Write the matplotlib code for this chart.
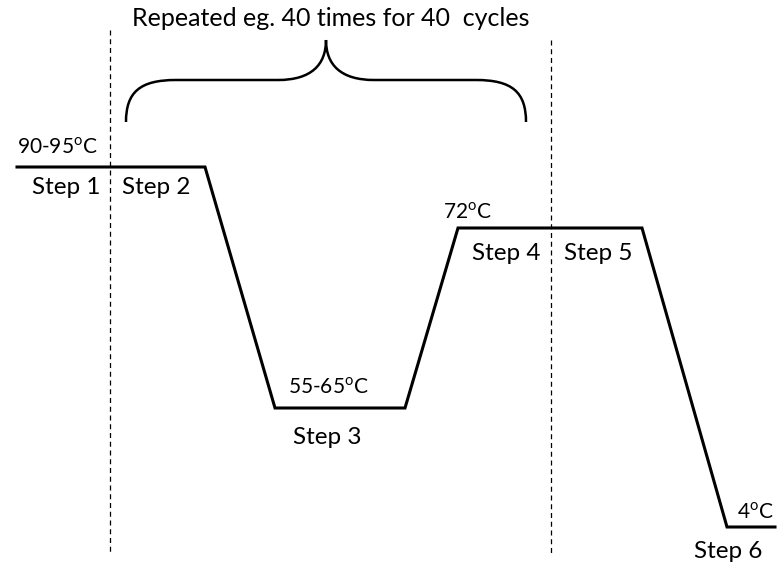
import matplotlib
matplotlib.use("Agg")
import matplotlib.pyplot as plt
from matplotlib.path import Path
from matplotlib.patches import PathPatch

plt.rcParams['font.family'] = ['Lato', 'DejaVu Sans']
plt.rcParams['mathtext.fontset'] = 'custom'
plt.rcParams['mathtext.rm'] = 'Lato'

# temperature profile (schematic, in drawing units: x = time, y = level from top)
profile_x = [17, 205, 275, 405, 458, 642, 727, 775]
profile_y = [167, 167, 408, 408, 228, 228, 527, 527]

# cycle boundaries
cycle_x = [110, 551]
cycle_top = [30, 40]
cycle_bottom = 555

# labels: (text, x, y)
temp_labels = [
    ("90-95$^{\\mathrm{o}}$C", 17, 147),
    ("55-65$^{\\mathrm{o}}$C", 288, 387),
    ("72$^{\\mathrm{o}}$C", 443, 212),
    ("4$^{\\mathrm{o}}$C", 737, 512),
]
step_labels = [
    ("Step 1", 66, 187),
    ("Step 2", 156, 187),
    ("Step 3", 327, 438),
    ("Step 4", 506, 253),
    ("Step 5", 598, 253),
    ("Step 6", 728, 551),
]
title = "Repeated eg. 40 times for 40  cycles"

fig = plt.figure(figsize=(7.82, 5.67), dpi=100)
ax = fig.add_axes([0, 0, 1, 1])
ax.set_xlim(0, 782)
ax.set_ylim(567, 0)
ax.axis("off")

ax.plot(profile_x, profile_y, color="black", lw=2.2, solid_joinstyle="miter")

for x, top in zip(cycle_x, cycle_top):
    ax.plot([x, x], [top, cycle_bottom], color="black", lw=0.9,
            linestyle=(0, (4, 3)))

# curly brace over the cycle
left, right, mid = 126, 526, 326
base, flat, peak = 122, 80, 40
verts = [
    (left, base),
    (left, flat + 12), (left + 14, flat), (left + 50, flat),
    (mid - 48, flat),
    (mid - 15, flat), (mid, flat - 15), (mid, peak),
    (mid, flat - 15), (mid + 15, flat), (mid + 48, flat),
    (right - 50, flat),
    (right - 14, flat), (right, flat + 12), (right, base),
]
codes = [Path.MOVETO,
         Path.CURVE4, Path.CURVE4, Path.CURVE4,
         Path.LINETO,
         Path.CURVE4, Path.CURVE4, Path.CURVE4,
         Path.CURVE4, Path.CURVE4, Path.CURVE4,
         Path.LINETO,
         Path.CURVE4, Path.CURVE4, Path.CURVE4]
ax.add_patch(PathPatch(Path(verts, codes), fill=False, lw=1.8, color="black"))

ax.text(331, 18, title, fontsize=18, ha="center", va="center")

for txt, x, y in temp_labels:
    ax.text(x, y, txt, fontsize=15, ha="left", va="center")
for txt, x, y in step_labels:
    ax.text(x, y, txt, fontsize=17.5, ha="center", va="center")

fig.savefig("out.png", dpi=100)
